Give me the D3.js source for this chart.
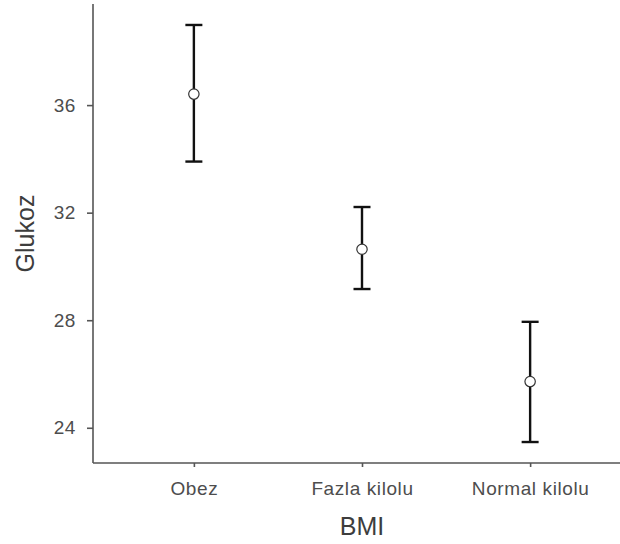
<!DOCTYPE html>
<html><head><meta charset="utf-8">
<script src="https://cdn.jsdelivr.net/npm/d3@7"></script>
<style>body{margin:0;background:#fff}svg{display:block}</style>
</head><body>
<svg id="c" width="620" height="544"></svg>
<script>
const categories = ["Obez", "Fazla kilolu", "Normal kilolu"];
const means = [36.41, 30.64, 25.72];
const lower = [33.90, 29.16, 23.47];
const upper = [38.98, 32.21, 27.94];
const yTicks = [24, 28, 32, 36];
const xTitle = "BMI";
const yTitle = "Glukoz";

(function () {
const svg = d3.select("#c");
const pL = 93, pR = 631, pT = 4, pB = 463;
const y = d3.scaleLinear().domain([22.69, 39.76]).range([pB, pT]);
const x = d3.scalePoint().domain(categories).range([pL, pR]).padding(0.6);
const font = "Liberation Sans, Arial, sans-serif";

const gy = svg.append("g").attr("transform", `translate(${pL},0)`)
  .call(d3.axisLeft(y).tickValues(yTicks).tickSize(6).tickPadding(11).tickFormat(d3.format("d")));
const gx = svg.append("g").attr("transform", `translate(0,${pB})`)
  .call(d3.axisBottom(x).tickSize(4).tickPadding(15));
[gy, gx].forEach(g => {
  g.select(".domain").attr("stroke", "#555").attr("stroke-width", 1.6);
  g.selectAll(".tick line").attr("stroke", "#555").attr("stroke-width", 1.6);
  g.selectAll(".tick text").attr("fill", "#4d4d4d").style("font-family", font)
    .style("font-size", "19px").style("letter-spacing", "0.6px");
});
gy.select(".domain").attr("d", `M0,${pT}V${pB}`);
gx.select(".domain").attr("d", `M${pL},0H${pR}`);

const data = categories.map((c, i) => ({c, m: means[i], lo: lower[i], hi: upper[i]}));
const cap = 8.5;
const g = svg.append("g");
g.selectAll("line.v").data(data).join("line")
  .attr("x1", d => x(d.c)).attr("x2", d => x(d.c))
  .attr("y1", d => y(d.lo)).attr("y2", d => y(d.hi))
  .attr("stroke", "#111").attr("stroke-width", 2.4);
["lo", "hi"].forEach(k => {
  g.append("g").selectAll("line").data(data).join("line")
    .attr("x1", d => x(d.c) - cap).attr("x2", d => x(d.c) + cap)
    .attr("y1", d => y(d[k])).attr("y2", d => y(d[k]))
    .attr("stroke", "#111").attr("stroke-width", 2.4);
});
g.append("g").selectAll("circle").data(data).join("circle")
  .attr("cx", d => x(d.c)).attr("cy", d => y(d.m)).attr("r", 5.2)
  .attr("fill", "#fff").attr("stroke", "#333").attr("stroke-width", 1.2);

svg.append("text").attr("x", (pL + pR) / 2).attr("y", 535)
  .attr("text-anchor", "middle").attr("fill", "#3d3d3d")
  .style("font-family", font).style("font-size", "25px").text(xTitle);
svg.append("text").attr("transform", `translate(34,${(pT + pB) / 2}) rotate(-90)`)
  .attr("text-anchor", "middle").attr("fill", "#3d3d3d")
  .style("font-family", font).style("font-size", "25px").text(yTitle);
})();
</script>
</body></html>
